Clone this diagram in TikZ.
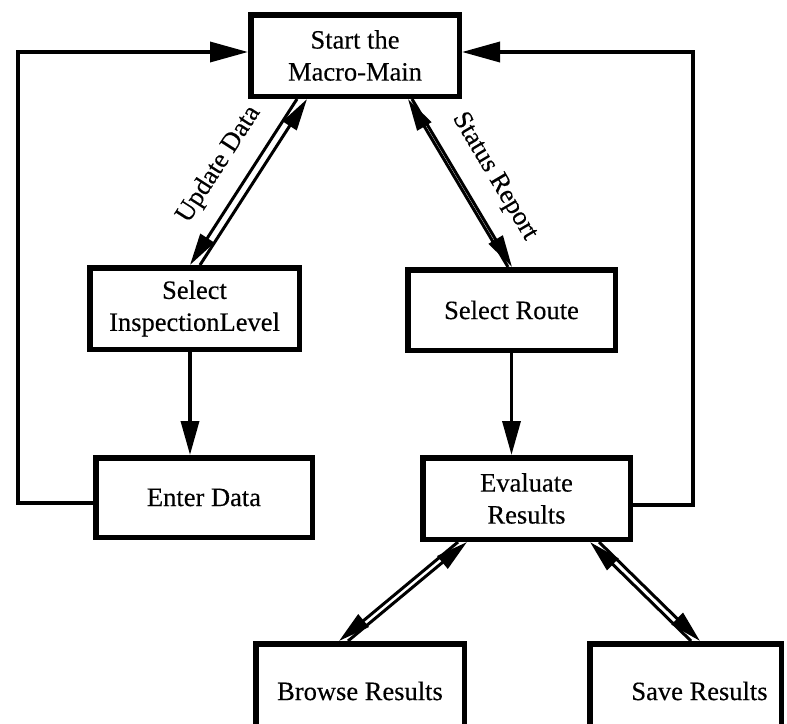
\documentclass[tikz,border=0pt]{standalone}
\usepackage{fontspec}
\setmainfont{Liberation Serif}[FakeBold=0.3]
\usetikzlibrary{arrows.meta}

\tikzset{
  box/.style={draw, line width=5.5pt, rectangle, inner sep=0pt, align=center,
              font=\fontsize{26.5}{32}\selectfont},
  link/.style={line width=3.5pt, line join=miter},
  sidearrow/.style={link, -{Triangle[length=38pt,width=20pt]}},
  downarrow/.style={link, -{Triangle[length=34pt,width=18pt]}},
  diagarrow/.style={line width=3pt, -{Triangle[length=32pt,width=16pt]}},
  tag/.style={sloped, inner sep=0pt, font=\fontsize{26.5}{30}\selectfont}
}

\begin{document}
\begin{tikzpicture}[x=1pt, y=-1pt]
  \useasboundingbox (0,0) rectangle (787,723);
  \clip (0,0) rectangle (787,723);

  % boxes
  \node[box, minimum width=208.5pt, minimum height=81.5pt] (top) at (355,55.5) {Start the\\Macro-Main};
  \node[box, minimum width=209.5pt, minimum height=81.5pt] (sil) at (194.5,308.5) {Select\\InspectionLevel};
  \node[box, minimum width=207.5pt, minimum height=80.5pt] (sr) at (511.5,310) {Select Route};
  \node[box, minimum width=216.5pt, minimum height=79.5pt] (ed) at (204,497.5) {Enter Data};
  \node[box, minimum width=207.5pt, minimum height=81.5pt] (er) at (526.5,498.5) {Evaluate\\Results};
  \node[box, minimum width=208.5pt, minimum height=94.5pt] (br) at (360,691) {Browse Results};
  \node[box, minimum width=191.5pt, minimum height=94.5pt] (sv) at (685.5,691) {\hspace*{28pt}Save Results};

  % return loops to the main box
  \draw[sidearrow] ([yshift=-5.5pt]ed.west) -- ++(-75,0) |- ([yshift=3.5pt]top.west);
  \draw[sidearrow] ([yshift=-6.5pt]er.east) -- ++(60,0) |- ([yshift=3.5pt]top.east);

  % straight flow
  \draw[downarrow] ([xshift=-4.5pt]sil.south) -- ([xshift=-4.5pt]sil.south |- ed.north);
  \draw[downarrow] (sr.south) -- (sr.south |- er.north);

  % Update Data pair
  \draw[diagarrow] ([xshift=113pt]sil.north west) -- node[tag, above=25pt, pos=0.48] {Update Data} ([xshift=59pt]top.south west);
  \draw[diagarrow] ([xshift=49pt]top.south west) -- ([xshift=103pt]sil.north west);

  % Status Report pair (drawn close together)
  \draw[diagarrow] ([xshift=103pt]sr.north west) -- ([xshift=160pt]top.south west);
  \draw[diagarrow] ([xshift=164pt]top.south west) -- node[tag, above=18pt, pos=0.556] {Status Report} ([xshift=107pt]sr.north west);

  % Browse pair
  \draw[diagarrow] ([xshift=95pt]br.north west) -- ([xshift=47pt]er.south west);
  \draw[diagarrow] ([xshift=38pt]er.south west) -- ([xshift=86pt]br.north west);

  % Save pair
  \draw[diagarrow] ([xshift=104pt]sv.north west) -- ([xshift=170pt]er.south west);
  \draw[diagarrow] ([xshift=179pt]er.south west) -- ([xshift=113pt]sv.north west);
\end{tikzpicture}
\end{document}
